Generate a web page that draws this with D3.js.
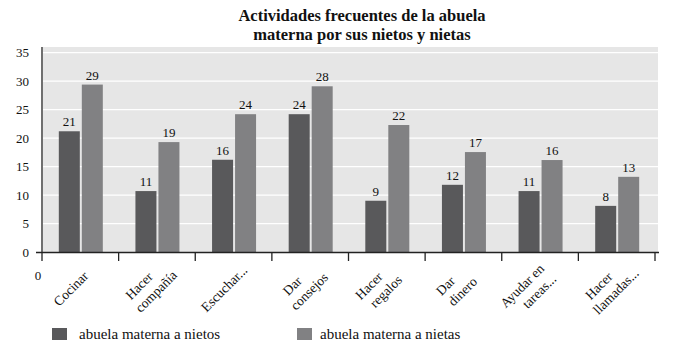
<!doctype html>
<html lang="es">
<head>
  <meta charset="UTF-8">
  <script src="https://cdn.jsdelivr.net/npm/d3@7/dist/d3.min.js"></script>
  <title>Actividades frecuentes de la abuela materna</title>
  <style>
    body { margin: 0; background: #fff; }
    .chart text { font-family: "Liberation Serif", "DejaVu Serif", serif; fill: #111; }
  </style>
</head>
<body>
  <div class="chart"></div>
  <script>
    // data
    const categories = [
      ['Cocinar'], ['Hacer', 'compañía'], ['Escuchar...'], ['Dar', 'consejos'],
      ['Hacer', 'regalos'], ['Dar', 'dinero'], ['Ayudar en', 'tareas...'], ['Hacer', 'llamadas...']
    ];
    const nietos = [21.2, 10.7, 16.2, 24.2, 9.0, 11.8, 10.7, 8.1];
    const nietas = [29.4, 19.3, 24.2, 29.1, 22.3, 17.55, 16.15, 13.2];
    const nietosLabels = ['21', '11', '16', '24', '9', '12', '11', '8'];
    const nietasLabels = ['29', '19', '24', '28', '22', '17', '16', '13'];
    const yTicks = [0, 5, 10, 15, 20, 25, 30, 35];
    const seriesNames = ['abuela materna a  nietos', 'abuela materna a nietas'];
    const colors = ['#59595b', '#818183'];

    const W = 673, H = 350;
    const margin = { top: 47, right: 15, bottom: 98, left: 42 };
    const width = W - margin.left - margin.right;
    const height = H - margin.top - margin.bottom;

    const svg = d3.select('.chart').append('svg')
      .attr('width', W).attr('height', H);

    svg.append('text')
      .attr('x', 362).attr('y', 21)
      .attr('text-anchor', 'middle')
      .style('font-weight', 'bold').style('font-size', '16.5px')
      .selectAll('tspan')
      .data(['Actividades frecuentes de la abuela', 'materna por sus nietos y nietas'])
      .join('tspan')
      .attr('x', 362).attr('dy', (d, i) => i ? 19 : 0)
      .text(d => d);

    const g = svg.append('g').attr('transform', `translate(${margin.left},${margin.top})`);

    const x = d3.scaleBand().domain(d3.range(categories.length)).range([0, 613]).paddingInner(0).paddingOuter(0);
    const y = d3.scaleLinear().domain([0, 36]).range([height, 0]);

    g.append('rect').attr('x', 1).attr('width', width - 1).attr('height', height).attr('fill', '#e6e6e6');

    g.selectAll('line.grid').data(yTicks.slice(1)).join('line')
      .attr('class', 'grid')
      .attr('x1', 1).attr('x2', width)
      .attr('y1', d => y(d)).attr('y2', d => y(d))
      .attr('stroke', '#fff').attr('stroke-width', 1.3);

    g.selectAll('text.ytick').data(yTicks).join('text')
      .attr('class', 'ytick')
      .attr('x', -13).attr('y', d => y(d)).attr('dy', '0.35em')
      .attr('text-anchor', 'end').style('font-size', '13px')
      .text(d => d);

    const barW = 21;
    const groups = g.selectAll('g.cat').data(categories).join('g')
      .attr('class', 'cat')
      .attr('transform', (d, i) => `translate(${x(i) + x.bandwidth() / 2},0)`);

    [nietos, nietas].forEach((vals, s) => {
      const labels = s ? nietasLabels : nietosLabels;
      groups.append('rect')
        .attr('x', (d, i) => s ? 1.5 : -barW - 0.5)
        .attr('y', (d, i) => y(vals[i]))
        .attr('width', barW)
        .attr('height', (d, i) => height - y(vals[i]))
        .attr('fill', colors[s]);
      groups.append('text')
        .attr('x', s ? 1.5 + barW / 2 : -0.5 - barW / 2)
        .attr('y', (d, i) => y(vals[i]) - 5)
        .attr('text-anchor', 'middle').style('font-size', '13px')
        .text((d, i) => labels[i]);
    });

    // axes
    g.append('line').attr('x1', 0).attr('x2', 0).attr('y1', 0).attr('y2', height + 9)
      .attr('stroke', '#222').attr('stroke-width', 1.3);
    g.append('line').attr('x1', -6).attr('x2', 617).attr('y1', height + 0.5).attr('y2', height + 0.5)
      .attr('stroke', '#222').attr('stroke-width', 1.3);
    g.selectAll('line.xtick').data(d3.range(1, categories.length + 1)).join('line')
      .attr('class', 'xtick')
      .attr('x1', d => x.step() * d).attr('x2', d => x.step() * d)
      .attr('y1', height).attr('y2', height + 9)
      .attr('stroke', '#222').attr('stroke-width', 1.3);

    g.append('text').attr('x', -4).attr('y', height + 28)
      .attr('text-anchor', 'middle').style('font-size', '13px').text('0');

    groups.append('g')
      .attr('transform', `translate(-9,${height + 37}) rotate(-45)`)
      .append('text')
      .attr('text-anchor', 'middle').style('font-size', '13.5px')
      .selectAll('tspan').data(d => d).join('tspan')
      .attr('x', (d, i, nodes) => nodes.length > 1 ? (i ? 4 : -4) : 0)
      .attr('y', (d, i, nodes) => (i - (nodes.length - 1) / 2) * 16 + 4)
      .text(d => d);

    // legend
    const legend = svg.append('g').attr('transform', 'translate(52,328)');
    seriesNames.forEach((name, i) => {
      const lg = legend.append('g').attr('transform', `translate(${i * 245},0)`);
      lg.append('rect').attr('width', 15).attr('height', 12).attr('fill', colors[i]);
      lg.append('text').attr('x', 27 - i * 4).attr('y', 10.5).style('font-size', '15px').text(name);
    });
  </script>
</body>
</html>
